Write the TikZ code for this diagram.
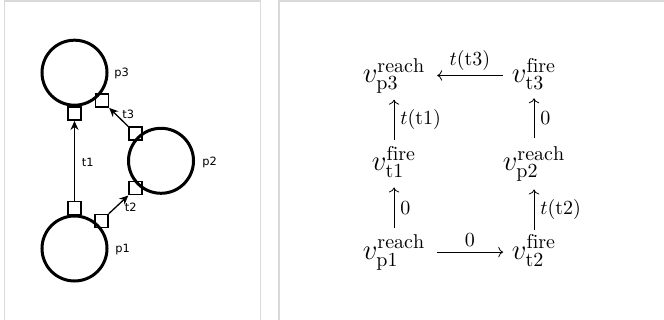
\documentclass[tikz,border=0pt]{standalone}
\usepackage{fontspec}
\newfontfamily\lblfont{DejaVu Sans}
\usetikzlibrary{arrows.meta,cd}
\begin{document}
\begin{tikzpicture}[x=0.5pt,y=-0.5pt,
  panel/.style={draw=black!15,line width=0.65pt},
  place/.style={draw=black,line width=1.5pt,circle,minimum size=32.5pt,inner sep=0pt},
  port/.style={draw=black,line width=0.7pt,rectangle,minimum size=6.5pt,inner sep=0pt},
  plbl/.style={font=\lblfont\fontsize{5.7}{7}\selectfont,inner sep=0pt},
  parrow/.style={line width=0.65pt,-{Stealth[length=4.5pt,width=4pt]}},
  mnode/.style={anchor=base,inner sep=0pt,font=\fontsize{14.4}{17}\selectfont},
  cdarrow/.style={line width=0.4pt,-{cm to}},
  elbl/.style={inner sep=0pt,font=\fontsize{14.4}{17}\selectfont}]
\clip (0,0) rectangle (664,320);
% panels
\draw[panel] (4.5,1) rectangle (260.5,340);
\draw[panel] (279,1) rectangle (700,340);
% left: Petri net
\node[port] (s3b) at (74.5,113.7) {};
\node[port] (s3d) at (102,100.7) {};
\node[port] (s2t) at (135.5,133.7) {};
\node[port] (s2b) at (135.5,188.3) {};
\node[port] (s1d) at (101.5,221) {};
\node[port] (s1t) at (74.5,208) {};
\node[place] (p3) at (74.5,72.7) {};
\node[place] (p2) at (161,160.8) {};
\node[place] (p1) at (74.5,248.5) {};
\node[plbl,anchor=base west] (l3) at (114,77) {p3};
\node[plbl,anchor=base west] (l2) at (202,165.5) {p2};
\node[plbl,anchor=base west] (l1) at (115,253) {p1};
\draw[parrow] (s1t.north) -- (s3b.south);
\draw[parrow] (s1d.north east) -- (s2b.south west);
\draw[parrow] (s2t.north west) -- (s3d.south east);
\node[plbl,anchor=base west] (lt1) at (81.5,166.5) {t1};
\node[plbl,anchor=base west] (lt2) at (124.5,212) {t2};
\node[plbl,anchor=base west] (lt3) at (122,118.5) {t3};
% right: constraint graph
\node[mnode] (p3r) at (394,82.7) {$v^{\mathrm{reach}}_{\mathrm{p3}}$};
\node[mnode] (t3f) at (534,82.7) {$v^{\mathrm{fire}}_{\mathrm{t3}}$};
\node[mnode] (t1f) at (394,170.5) {$v^{\mathrm{fire}}_{\mathrm{t1}}$};
\node[mnode] (p2r) at (534,170.5) {$v^{\mathrm{reach}}_{\mathrm{p2}}$};
\node[mnode] (p1r) at (394,259.3) {$v^{\mathrm{reach}}_{\mathrm{p1}}$};
\node[mnode] (t2f) at (534,259.3) {$v^{\mathrm{fire}}_{\mathrm{t2}}$};
\draw[cdarrow] ([yshift=3.6pt,xshift=-4.5pt]t3f.base west) -- ([yshift=3.6pt,xshift=5.8pt]p3r.base east)
  node[elbl,midway,above=2.5pt] (e1) {$\scriptstyle t(\mathrm{t3})$};
\draw[cdarrow] ([yshift=3.6pt,xshift=5.5pt]p1r.base east) -- ([yshift=3.6pt,xshift=-4.2pt]t2f.base west)
  node[elbl,midway,above=2.5pt] (e2) {$\scriptstyle 0$};
\draw[cdarrow] ([yshift=15.5pt]p1r.base) -- ([yshift=-8.5pt]t1f.base)
  node[elbl,midway,right=3pt] (e3) {$\scriptstyle 0$};
\draw[cdarrow] ([yshift=15.2pt]t1f.base) -- ([yshift=-8.5pt]p3r.base)
  node[elbl,midway,right=3pt] (e4) {$\scriptstyle t(\mathrm{t1})$};
\draw[cdarrow] ([yshift=14.7pt]t2f.base) -- ([yshift=-9.5pt]p2r.base)
  node[elbl,midway,right=3pt] (e5) {$\scriptstyle t(\mathrm{t2})$};
\draw[cdarrow] ([yshift=16pt]p2r.base) -- ([yshift=-7.8pt]t3f.base)
  node[elbl,midway,right=3pt] (e6) {$\scriptstyle 0$};
\end{tikzpicture}
\end{document}
